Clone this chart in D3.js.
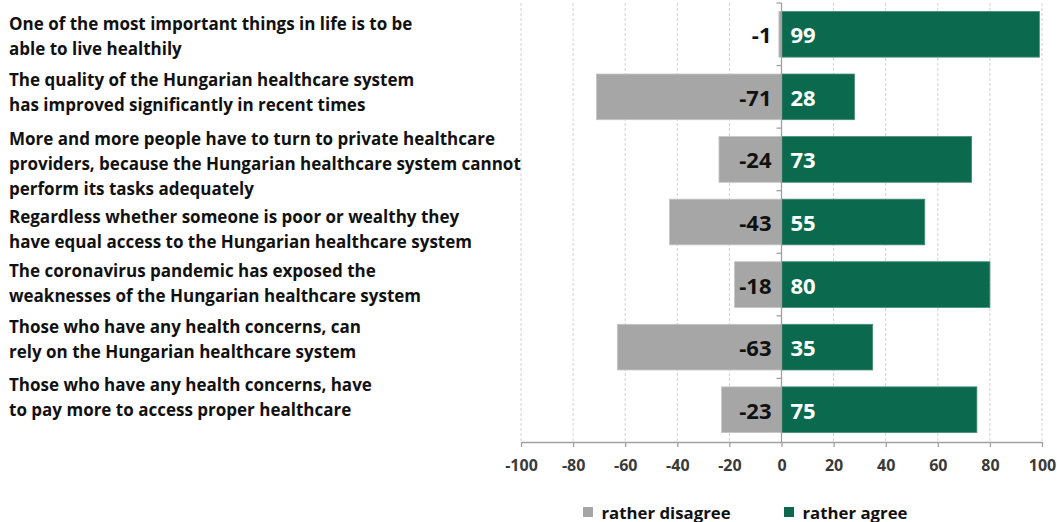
<!DOCTYPE html>
<html>
<head>
<meta charset="utf-8">
<script src="https://cdn.jsdelivr.net/npm/d3@7"></script>
<style>
  html, body { margin: 0; padding: 0; background: #fff; }
  svg { display: block; font-family: "Open Sans", Lato, sans-serif; font-weight: bold; }
</style>
</head>
<body>
<svg id="chart" width="1057" height="522"></svg>
<script>
const categories = [
  ["One of the most important things in life is to be", "able to live healthily"],
  ["The quality of the Hungarian healthcare system", "has improved significantly in recent times"],
  ["More and more people have to turn to private healthcare", "providers, because the Hungarian healthcare system cannot", "perform its tasks adequately"],
  ["Regardless whether someone is poor or wealthy they", "have equal access to the Hungarian healthcare system"],
  ["The coronavirus pandemic has exposed the", "weaknesses of the Hungarian healthcare system"],
  ["Those who have any health concerns, can", "rely on the Hungarian healthcare system"],
  ["Those who have any health concerns, have", "to pay more to access proper healthcare"]
];
const disagree = [-1, -71, -24, -43, -18, -63, -23];
const agree = [99, 28, 73, 55, 80, 35, 75];
const xTicks = [-100, -80, -60, -40, -20, 0, 20, 40, 60, 80, 100];
const seriesNames = ["rather disagree", "rather agree"];
const colors = ["#a6a6a6", "#0b6a4e"];

// layout: small vertical nudges of the label blocks, as in the source layout
const labelNudge = [2, -5, 4, 7, -2, -8, -13];

const svg = d3.select("#chart");
const x = d3.scaleLinear().domain([-100, 100]).range([521, 1042]);
const y = d3.scaleBand().domain(d3.range(categories.length)).range([3, 441])
  .paddingInner(0.27).paddingOuter(0.135);
const axisY = 442;

// gridlines
svg.append("g").selectAll("line").data(xTicks.filter(d => d !== 0)).join("line")
  .attr("x1", d => x(d)).attr("x2", d => x(d))
  .attr("y1", 3).attr("y2", axisY)
  .attr("stroke", "#d2d2d2").attr("stroke-width", 1).attr("stroke-dasharray", "3,2");

// bars
const rows = svg.append("g").selectAll("g").data(categories.map((c, i) => i)).join("g");
rows.append("rect")
  .attr("x", i => x(disagree[i])).attr("width", i => x(0) - x(disagree[i]))
  .attr("y", i => y(i)).attr("height", y.bandwidth())
  .attr("fill", colors[0]).attr("stroke", "#c4c4c4").attr("stroke-width", 0.8);
rows.append("rect")
  .attr("x", x(0)).attr("width", i => x(agree[i]) - x(0))
  .attr("y", i => y(i)).attr("height", y.bandwidth())
  .attr("fill", colors[1]).attr("stroke", "#4a8c76").attr("stroke-width", 0.8);

// value labels
rows.append("text")
  .attr("x", x(0) - 10).attr("y", i => y(i) + y.bandwidth() / 2)
  .attr("text-anchor", "end").attr("dominant-baseline", "central")
  .attr("font-size", 22).attr("fill", "#111")
  .text(i => String(disagree[i]));
rows.append("text")
  .attr("x", x(0) + 9).attr("y", i => y(i) + y.bandwidth() / 2)
  .attr("text-anchor", "start").attr("dominant-baseline", "central")
  .attr("font-size", 22).attr("fill", "#fff")
  .text(i => String(agree[i]));

// x axis
const xAxis = d3.axisBottom(x).tickValues(xTicks).tickFormat(d => String(d))
  .tickSize(5).tickPadding(13).tickSizeOuter(0);
const gx = svg.append("g").attr("transform", `translate(0,${axisY})`).call(xAxis);
gx.select(".domain").attr("stroke", "#a0a0a0").attr("stroke-width", 1.3);
gx.selectAll(".tick line").attr("stroke", "#a0a0a0").attr("stroke-width", 1.3);
gx.selectAll(".tick text").attr("font-size", 16).attr("font-family", "'Open Sans', sans-serif")
  .attr("font-weight", "bold").attr("fill", "#3a3a3a");

// y axis at zero
const boundaries = d3.range(categories.length).map(i => y(i) - y.step() * y.paddingInner() / 2);
svg.append("line").attr("x1", x(0)).attr("x2", x(0)).attr("y1", 3).attr("y2", axisY)
  .attr("stroke", "#a0a0a0").attr("stroke-width", 1.3);
svg.append("g").selectAll("line").data(boundaries).join("line")
  .attr("x1", x(0) - 5).attr("x2", x(0)).attr("y1", d => d).attr("y2", d => d)
  .attr("stroke", "#a0a0a0").attr("stroke-width", 1.3);

// category labels
const lineH = 25;
const lab = svg.append("g").selectAll("text").data(categories).join("text")
  .attr("font-size", 17).attr("fill", "#111")
  .attr("transform", (c, i) => `translate(9,${y(i) + y.bandwidth() / 2 + labelNudge[i] - (c.length - 1) * lineH / 2})`);
lab.selectAll("tspan").data(c => c).join("tspan")
  .attr("x", 0).attr("y", (d, j) => j * lineH).attr("dominant-baseline", "central")
  .text(d => d);

// legend
const legend = svg.append("g").attr("transform", "translate(583,512)");
const items = legend.selectAll("g").data(seriesNames).join("g")
  .attr("transform", (d, i) => `translate(${i * 201},0)`);
items.append("rect").attr("x", 0).attr("y", -5).attr("width", 10).attr("height", 10)
  .attr("fill", (d, i) => colors[i]);
items.append("text").attr("x", 18.5).attr("y", 0).attr("dominant-baseline", "central")
  .attr("font-size", 16.8).attr("fill", "#111").text(d => d);
</script>
</body>
</html>
